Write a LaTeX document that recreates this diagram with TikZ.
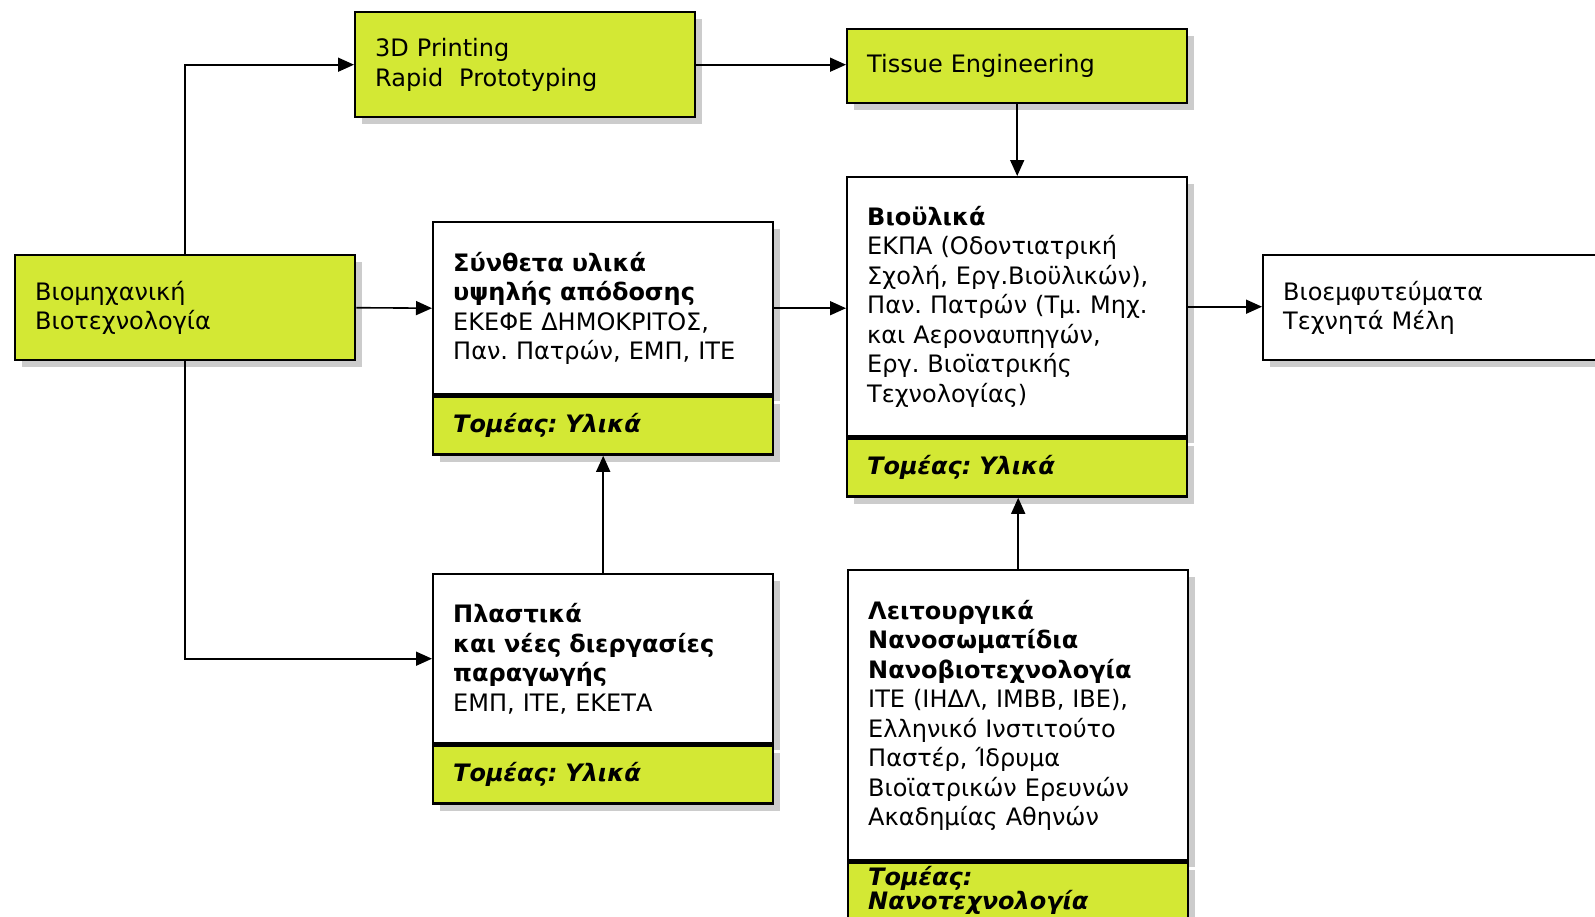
\documentclass[tikz,border=0pt]{standalone}
\usepackage{fontspec}
\setmainfont{DejaVu Sans}
\usetikzlibrary{arrows.meta, positioning, shadows}
\definecolor{limeFill}{RGB}{211,232,52}
\frenchspacing

\begin{document}
\begin{tikzpicture}[x=0.5pt, y=0.5pt, >={Triangle[length=8pt, width=7pt]}, line width=0.8pt,
  every node/.style={font=\fontsize{12}{14.75}\selectfont},
  box/.style={draw, line width=1.2pt, fill=white, anchor=north west, text width=150pt, inner xsep=10pt, align=left,
    drop shadow={shadow xshift=3.5pt, shadow yshift=-3.5pt, fill=black!20, opacity=1}},
  limebox/.style={box, fill=limeFill},
  footbox/.style={limebox, below=0pt of #1, anchor=north, minimum height=29pt}]
  \useasboundingbox (0,0) rectangle (1595,-916);

  \node[limebox, minimum height=52.5pt] (print3D) at (354,-11) {3D Printing\\Rapid\ \ Prototyping};
  \node[limebox, minimum height=37pt] (tissueEng) at (846,-27.5) {Tissue Engineering};
  \node[limebox, minimum height=52.5pt] (bioMix) at (14,-254) {Βιομηχανική\\Βιοτεχνολογία};
  \node[box, minimum height=52.5pt] (implants) at (1262,-254) {Βιοεμφυτεύματα\\Τεχνητά Μέλη};

  \node[box, minimum height=86pt] (synthUp) at (432,-221) {\textbf{Σύνθετα υλικά}\\\textbf{υψηλής απόδοσης}\\ΕΚΕΦΕ ΔΗΜΟΚΡΙΤΟΣ,\\Παν. Πατρών, ΕΜΠ, ΙΤΕ};
  \node[footbox=synthUp] (synthFoot) {\textbf{\textit{Τομέας: Υλικά}}};

  \node[box, minimum height=129.5pt] (bioMat) at (846,-176) {\textbf{Βιοϋλικά}\\ΕΚΠΑ (Οδοντιατρική\\Σχολή, Εργ.Βιοϋλικών),\\Παν. Πατρών (Τμ. Μηχ.\\και Αεροναυπηγών,\\Εργ. Βιοϊατρικής\\Τεχνολογίας)};
  \node[footbox=bioMat] (bioMatFoot) {\textbf{\textit{Τομέας: Υλικά}}};

  \node[box, minimum height=84.5pt] (plastUp) at (432,-573) {\textbf{Πλαστικά}\\\textbf{και νέες διεργασίες}\\\textbf{παραγωγής}\\ΕΜΠ, ΙΤΕ, ΕΚΕΤΑ};
  \node[footbox=plastUp] (plastFoot) {\textbf{\textit{Τομέας: Υλικά}}};

  \node[box, minimum height=145pt] (nanoUp) at (847,-569) {\textbf{Λειτουργικά}\\\textbf{Νανοσωματίδια}\\\textbf{Νανοβιοτεχνολογία}\\ΙΤΕ (ΙΗΔΛ, ΙΜΒΒ, ΙΒΕ),\\Ελληνικό Ινστιτούτο\\Παστέρ, Ίδρυμα\\Βιοϊατρικών Ερευνών\\Ακαδημίας Αθηνών};
  \node[footbox=nanoUp, minimum height=0pt, inner ysep=2pt] (nanoFoot) {\textbf{\textit{Τομέας:}}\\[-3pt]\textbf{\textit{Νανοτεχνολογία}}};

  \draw[->] (bioMix.north) |- (print3D.west);
  \draw[->] (bioMix.east) -- (synthUp.west);
  \draw[->] (bioMix.south) |- (plastUp.west);
  \draw[->] (plastUp.north) -- (synthFoot.south);
  \draw[->] (print3D.east) -- (print3D.east -| tissueEng.west);
  \draw[->] (tissueEng.south) -- (bioMat.north);
  \draw[->] (synthUp.east) -- (synthUp.east -| bioMat.west);
  \draw[->] (bioMat.east) -- (bioMat.east -| implants.west);
  \draw[->] (nanoUp.north) -- (nanoUp.north |- bioMatFoot.south);
\end{tikzpicture}
\end{document}
